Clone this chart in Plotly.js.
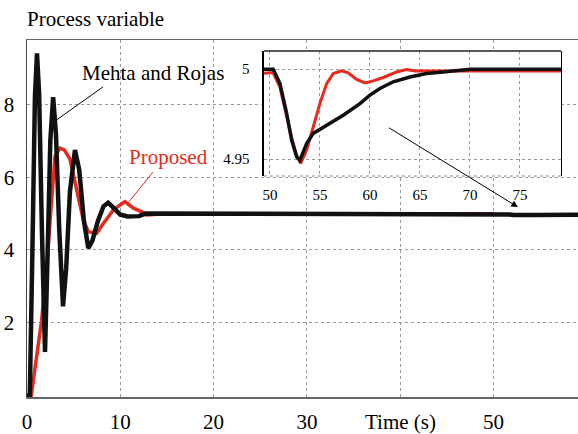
<!DOCTYPE html>
<html>
<head>
<meta charset="utf-8">
<script src="https://cdn.plot.ly/plotly-3.0.1.min.js"></script>
<style>html,body{margin:0;padding:0;background:#fff;}#chart{width:578px;height:434px;}</style>
</head>
<body>
<div id="chart"></div>
<script>
// ---- Data ----
const timeMehta = [0, 0.3, 0.6, 0.85, 1.07, 1.3, 1.6, 1.93, 2.2, 2.5, 2.8, 3.1, 3.45, 3.86, 4.2, 4.6, 5.14, 5.6, 6.1, 6.57, 7.0, 7.6, 8.2, 8.7, 9.3, 10.0, 10.8, 12.0, 12.7, 30, 50.0, 50.33, 51.0, 51.67, 52.17, 52.67, 53.0, 53.67, 54.33, 55.67, 57.33, 59.0, 60.0, 61.0, 62.33, 64.0, 65.67, 67.33, 69.0, 70.0, 80.0];
const mehtaRojas = [0, 0, 4.3, 8.2, 9.4, 8.3, 4.5, 1.2, 3.8, 7.0, 8.2, 7.2, 4.6, 2.45, 3.5, 5.6, 6.75, 6.2, 4.8, 4.05, 4.25, 4.8, 5.2, 5.3, 5.15, 4.97, 4.92, 4.93, 5.0, 5.0, 5.0, 5.0, 4.992, 4.9754, 4.9606, 4.9513, 4.9494, 4.9587, 4.9643, 4.9689, 4.9744, 4.9809, 4.9856, 4.9893, 4.993, 4.9957, 4.9976, 4.9985, 4.9994, 5.0, 5.0];

const timeProposed = [0, 0.45, 0.68, 1.1, 1.57, 2.1, 2.46, 3.0, 3.54, 4.0, 4.6, 5.1, 5.5, 6.03, 6.57, 7.47, 8.18, 9.25, 10.15, 10.5, 11.4, 12.3, 12.8, 14.0, 30, 50.0, 50.33, 51.0, 51.67, 52.17, 52.67, 53.07, 53.67, 54.33, 55.0, 55.67, 56.33, 57.17, 57.83, 58.67, 59.5, 60.33, 61.33, 62.67, 63.67, 64.5, 80.0];
const proposed = [0, 0, 0.42, 1.2, 2.07, 3.54, 4.83, 6.57, 6.8, 6.75, 6.5, 5.9, 5.37, 4.83, 4.5, 4.46, 4.73, 5.1, 5.27, 5.33, 5.15, 5.05, 4.96, 4.98, 4.99, 4.998, 4.998, 4.99, 4.974, 4.962, 4.952, 4.9476, 4.955, 4.968, 4.981, 4.992, 4.9976, 4.9991, 4.998, 4.9943, 4.9924, 4.9935, 4.9954, 4.9985, 4.9998, 4.999, 4.999];

const mainXTicks = [0, 10, 20, 30, 40, 50];
const mainXTickText = ['0', '10', '20', '30', '', '50'];
const mainYTicks = [2, 4, 6, 8];
const insetXTicks = [50, 55, 60, 65, 70, 75];
const insetYTicks = [4.95, 5];
const insetYTickText = ['4.95', '5'];

const RED = '#e8291c';
const BLACK = '#111111';
const FONT = 'Liberation Serif';

// In the main panel the proposed curve is hidden under the black one once settled
const mainPropT = timeProposed.filter(t => t <= 50);
const mainPropY = proposed.slice(0, mainPropT.length);

const traces = [
  {x: mainPropT, y: mainPropY, xaxis: 'x', yaxis: 'y', mode: 'lines', line: {color: RED, width: 3.5}, hoverinfo: 'skip'},
  {x: timeMehta, y: mehtaRojas, xaxis: 'x', yaxis: 'y', mode: 'lines', line: {color: BLACK, width: 4.5}, hoverinfo: 'skip'},
  {x: timeProposed, y: proposed, xaxis: 'x2', yaxis: 'y2', mode: 'lines', line: {color: RED, width: 3}, hoverinfo: 'skip'},
  {x: timeMehta, y: mehtaRojas, xaxis: 'x2', yaxis: 'y2', mode: 'lines', line: {color: BLACK, width: 3.5}, hoverinfo: 'skip'}
];

const layout = {
  width: 578, height: 434,
  margin: {l: 27, r: 0, t: 40, b: 37},
  paper_bgcolor: '#ffffff', plot_bgcolor: '#ffffff',
  showlegend: false,
  font: {family: FONT, color: '#000', size: 21},
  xaxis: {
    domain: [0, 1], range: [0, 59.05],
    tickvals: mainXTicks, ticktext: mainXTickText,
    tickfont: {family: FONT, size: 21, color: '#000'},
    ticks: '', ticklabelstandoff: 5,
    showgrid: true, gridcolor: '#9a9a9a', griddash: 'dot', gridwidth: 1,
    zeroline: false, showline: true, mirror: true, linecolor: '#666', linewidth: 1.5,
    anchor: 'y'
  },
  yaxis: {
    domain: [0, 1], range: [-0.04, 9.77],
    tickvals: mainYTicks,
    tickfont: {family: FONT, size: 21, color: '#000'},
    ticks: '', ticklabelstandoff: 7,
    showgrid: true, gridcolor: '#9a9a9a', griddash: 'dot', gridwidth: 1,
    zeroline: false, showline: true, linecolor: '#444', linewidth: 1.5,
    anchor: 'x'
  },
  xaxis2: {
    domain: [0.430, 0.969], range: [49.4, 79.1],
    tickvals: insetXTicks,
    tickfont: {family: FONT, size: 15, color: '#000'},
    ticks: '', ticklabelstandoff: 8,
    showgrid: true, gridcolor: '#9a9a9a', griddash: 'dot', gridwidth: 1,
    zeroline: false, showline: false,
    anchor: 'y2'
  },
  yaxis2: {
    domain: [0.619, 0.969], range: [4.9406, 5.0101],
    tickvals: insetYTicks, ticktext: insetYTickText,
    tickfont: {family: FONT, size: 15, color: '#000'},
    ticks: '', ticklabelstandoff: 10,
    showgrid: true, gridcolor: '#9a9a9a', griddash: 'dot', gridwidth: 1,
    zeroline: false, showline: true, mirror: true, linecolor: '#000', linewidth: 1.5,
    anchor: 'x2'
  },
  shapes: [
    {type: 'line', xref: 'x2 domain', yref: 'y2 domain', x0: 0, x1: 1, y0: 1, y1: 1, line: {color: '#222', width: 1.5}},
    {type: 'line', xref: 'x2 domain', yref: 'y2 domain', x0: 0, x1: 1, y0: 0, y1: 0, line: {color: '#888', width: 1, dash: 'dot'}},
    {type: 'line', xref: 'x', yref: 'y', x0: 8.14, y0: 8.48, x1: 3.21, y1: 7.58, line: {color: '#000', width: 1}},
    {type: 'line', xref: 'x', yref: 'y', x0: 13.5, y0: 6.14, x1: 10.82, y1: 5.29, line: {color: RED, width: 1}}
  ],
  annotations: [
    {text: 'Process variable', xref: 'paper', yref: 'paper', x: 0, y: 1.059, xanchor: 'left', yanchor: 'middle', xshift: -2, showarrow: false, font: {family: FONT, size: 21, color: '#000'}},
    {text: 'Mehta and Rojas', xref: 'x', yref: 'y', x: 13.5, y: 8.87, xanchor: 'center', yanchor: 'middle', showarrow: false, font: {family: FONT, size: 21, color: '#000'}},
    {text: 'Proposed', xref: 'x', yref: 'y', x: 15.2, y: 6.56, xanchor: 'center', yanchor: 'middle', showarrow: false, font: {family: FONT, size: 21, color: RED}},
    {text: 'Time (s)', xref: 'x', yref: 'paper', x: 40, y: -0.069, xanchor: 'center', yanchor: 'middle', borderpad: 0, showarrow: false, font: {family: FONT, size: 21, color: '#000'}},
    {text: '', xref: 'x', yref: 'y', x: 52.6, y: 5.18, axref: 'x', ayref: 'y', ax: 38.65, ay: 7.38, showarrow: true, arrowhead: 2, arrowsize: 1.3, arrowwidth: 1, arrowcolor: '#000', standoff: 0, startstandoff: 0}
  ]
};

Plotly.newPlot('chart', traces, layout, {staticPlot: true, displayModeBar: false});
</script>
</body>
</html>
